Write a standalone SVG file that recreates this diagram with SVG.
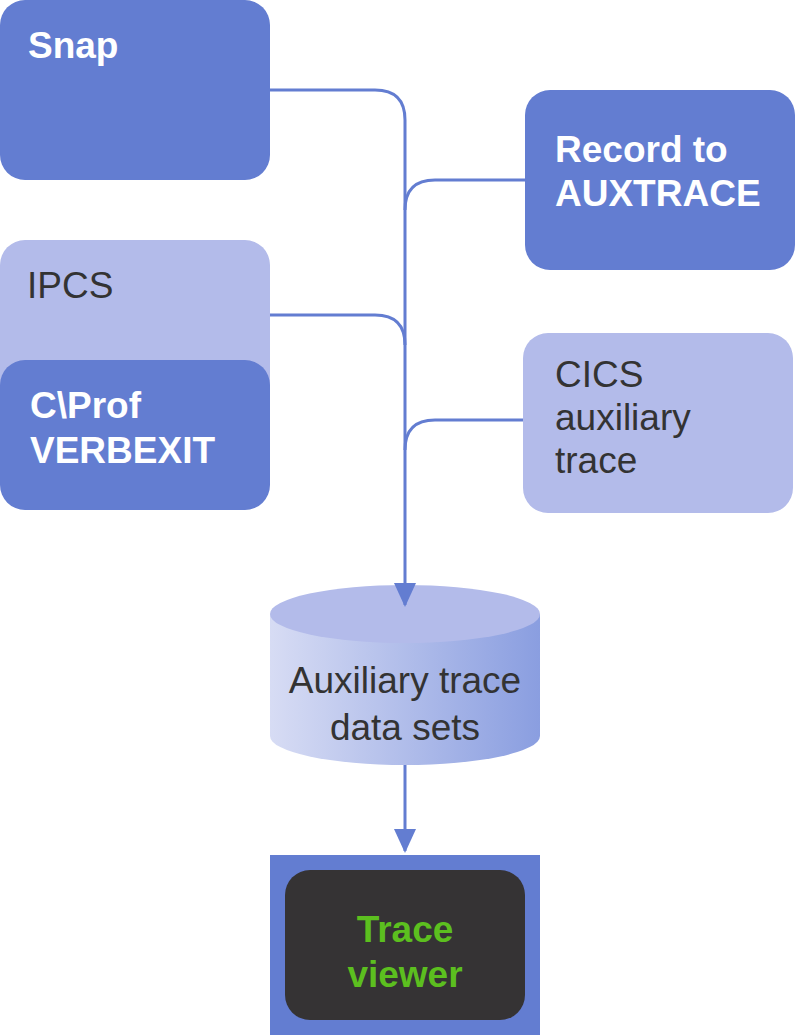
<svg xmlns="http://www.w3.org/2000/svg" width="795" height="1035" viewBox="0 0 795 1035">
<defs>
<style>
.dark{fill:#637dd1}
.light{fill:#b3bbea}
.wb{font-family:"Liberation Sans",Arial,sans-serif;font-weight:bold;font-size:37px;fill:#ffffff}
.rg{font-family:"Liberation Sans",Arial,sans-serif;font-size:37px;fill:#333333}
.gb{font-family:"Liberation Sans",Arial,sans-serif;font-weight:bold;font-size:37px;fill:#5cbf1f}
.conn{fill:none;stroke:#637dd1;stroke-width:3}
</style>
<linearGradient id="cylg" x1="0" y1="0" x2="1" y2="0">
<stop offset="0" stop-color="#d7dcf4"/>
<stop offset="1" stop-color="#8a9ee0"/>
</linearGradient>
<marker id="arr" viewBox="0 0 24 22" refX="22" refY="11" markerWidth="24" markerHeight="22" markerUnits="userSpaceOnUse" orient="auto">
<path d="M0,0 L24,11 L0,22 Z" fill="#637dd1"/>
</marker>
</defs>
<g id="snap">
<rect class="dark" x="0" y="0" width="270" height="180" rx="25"/>
<text class="wb" x="28" y="58">Snap</text>
</g>
<g id="record">
<rect class="dark" x="525" y="90" width="270" height="180" rx="25"/>
<text class="wb" x="555" y="162">Record to</text>
<text class="wb" x="555" y="206">AUXTRACE</text>
</g>
<g id="ipcs">
<rect class="light" x="0" y="240" width="270" height="200" rx="25"/>
<text class="rg" x="27" y="298">IPCS</text>
</g>
<g id="cprof">
<rect class="dark" x="0" y="360" width="270" height="150" rx="25"/>
<text class="wb" x="30" y="418">C\Prof</text>
<text class="wb" x="30" y="463">VERBEXIT</text>
</g>
<g id="cics">
<rect class="light" x="523" y="333" width="270" height="180" rx="25"/>
<text class="rg" x="555" y="387">CICS</text>
<text class="rg" x="555" y="430">auxiliary</text>
<text class="rg" x="555" y="473">trace</text>
</g>
<g id="datasets">
<path d="M270,614 V736 A135,29 0 0 0 540,736 V614 Z" fill="url(#cylg)"/>
<ellipse cx="405" cy="614" rx="135" ry="29" fill="#b3bbea"/>
<text class="rg" x="405" y="693" text-anchor="middle">Auxiliary trace</text>
<text class="rg" x="405" y="740" text-anchor="middle">data sets</text>
</g>
<g id="viewer">
<rect class="dark" x="270" y="855" width="270" height="180"/>
<rect x="285" y="870" width="240" height="150" rx="25" fill="#353334"/>
<text class="gb" x="405" y="942" text-anchor="middle">Trace</text>
<text class="gb" x="405" y="987" text-anchor="middle">viewer</text>
</g>
<g id="connectors">
<path class="conn" d="M270,90 H375 Q405,90 405,120 V605" marker-end="url(#arr)"/>
<path class="conn" d="M525,180 H435 Q405,180 405,210"/>
<path class="conn" d="M270,315 H375 Q405,315 405,345"/>
<path class="conn" d="M523,420 H435 Q405,420 405,450"/>
<path class="conn" d="M405,765 V851" marker-end="url(#arr)"/>
</g>
</svg>
